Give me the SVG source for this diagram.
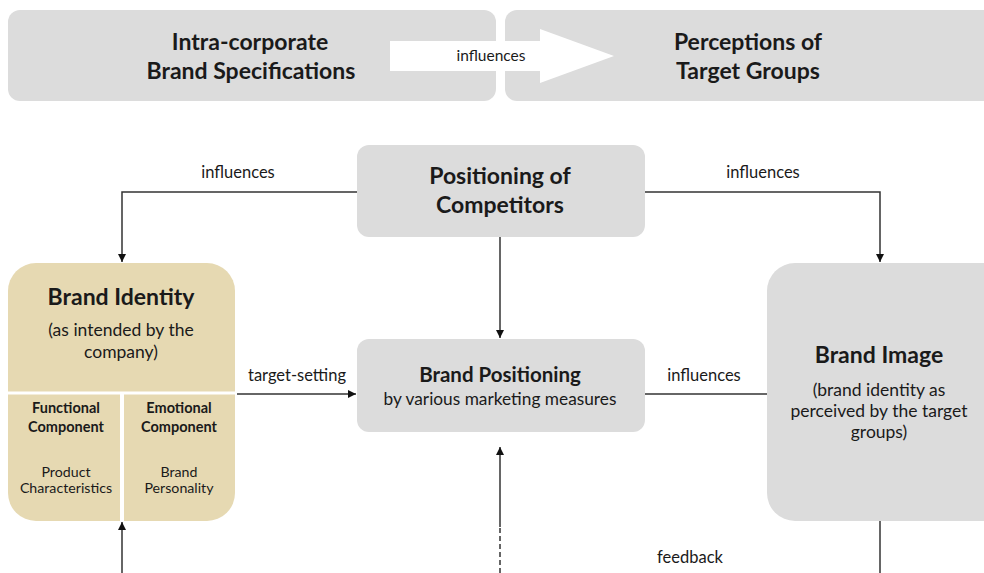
<svg xmlns="http://www.w3.org/2000/svg" width="984" height="573" viewBox="0 0 984 573">
<style>
  .box { fill: #dcdcdc; }
  .tan { fill: #e6d9b2; }
  text { font-family: Lato, "Open Sans", "Liberation Sans", sans-serif; fill: #1a1a1a; text-anchor: middle; }
  .h { font-weight: bold; }
  .ln { stroke: #333; stroke-width: 1.5; fill: none; }
  .lbl { font-size: 16.5px; }
</style>
<defs>
  <marker id="ah" viewBox="0 0 10 10" refX="10" refY="5" markerWidth="8" markerHeight="8" markerUnits="userSpaceOnUse" orient="auto">
    <path d="M0,0 L10,5 L0,10 z" fill="#111"/>
  </marker>
</defs>

<g id="top-left">
  <rect class="box" x="8" y="10" width="488" height="91" rx="12"/>
  <text class="h" x="250" y="50" font-size="23">Intra-corporate</text>
  <text class="h" x="251" y="79" font-size="23">Brand Specifications</text>
</g>
<g id="top-right">
  <rect class="box" x="505" y="10" width="500" height="91" rx="12"/>
  <text class="h" x="748" y="50" font-size="23">Perceptions of</text>
  <text class="h" x="748" y="79" font-size="23">Target Groups</text>
</g>
<g id="top-arrow">
  <polygon points="390,41 540,41 540,29 614,56 540,83 540,71 390,71" fill="#ffffff"/>
  <text x="491" y="61" font-size="15.5">influences</text>
</g>

<g id="competitors">
  <rect class="box" x="357" y="145" width="288" height="92" rx="12"/>
  <text class="h" x="500" y="184" font-size="23">Positioning of</text>
  <text class="h" x="500" y="213" font-size="23">Competitors</text>
</g>

<g id="brand-identity">
  <rect class="tan" x="8" y="263" width="227" height="258" rx="28"/>
  <line x1="8" y1="393" x2="235" y2="393" stroke="#fff" stroke-width="3"/>
  <line x1="122" y1="393" x2="122" y2="521" stroke="#fff" stroke-width="4"/>
  <text class="h" x="121" y="305" font-size="23">Brand Identity</text>
  <text x="121" y="336" font-size="17.5">(as intended by the</text>
  <text x="121" y="358" font-size="17.5">company)</text>
  <text class="h" x="66" y="413" font-size="14.5">Functional</text>
  <text class="h" x="66" y="432" font-size="14.5">Component</text>
  <text x="66" y="477" font-size="14.2">Product</text>
  <text x="66" y="493" font-size="14.2">Characteristics</text>
  <text class="h" x="179" y="413" font-size="14.5">Emotional</text>
  <text class="h" x="179" y="432" font-size="14.5">Component</text>
  <text x="179" y="477" font-size="14.2">Brand</text>
  <text x="179" y="493" font-size="14.2">Personality</text>
</g>

<g id="brand-positioning">
  <rect class="box" x="357" y="339" width="288" height="93" rx="12"/>
  <text class="h" x="500" y="382" font-size="20.5">Brand Positioning</text>
  <text x="500" y="405" font-size="17.3">by various marketing measures</text>
</g>

<g id="brand-image">
  <rect class="box" x="767" y="263" width="250" height="258" rx="28"/>
  <text class="h" x="879" y="363" font-size="23">Brand Image</text>
  <text x="879" y="396" font-size="17.5">(brand identity as</text>
  <text x="879" y="417" font-size="17.5">perceived by the target</text>
  <text x="879" y="438" font-size="17.5">groups)</text>
</g>

<g id="connectors">
  <polyline class="ln" points="357,192 122,192 122,262" marker-end="url(#ah)"/>
  <polyline class="ln" points="645,192 880,192 880,262" marker-end="url(#ah)"/>
  <line class="ln" x1="500" y1="237" x2="500" y2="338" marker-end="url(#ah)"/>
  <line class="ln" x1="237" y1="394" x2="356" y2="394" marker-end="url(#ah)"/>
  <line class="ln" x1="645" y1="394" x2="767" y2="394"/>
  <line class="ln" x1="122" y1="573" x2="122" y2="522" marker-end="url(#ah)"/>
  <line class="ln" x1="500" y1="527" x2="500" y2="447" marker-end="url(#ah)"/>
  <line class="ln" x1="500" y1="573" x2="500" y2="527" stroke-dasharray="5,3"/>
  <line class="ln" x1="880" y1="521" x2="880" y2="573"/>
  <text class="lbl" x="238" y="178">influences</text>
  <text class="lbl" x="763" y="178">influences</text>
  <text class="lbl" x="297" y="381">target-setting</text>
  <text class="lbl" x="704" y="381">influences</text>
  <text class="lbl" x="690" y="563">feedback</text>
</g>
</svg>
